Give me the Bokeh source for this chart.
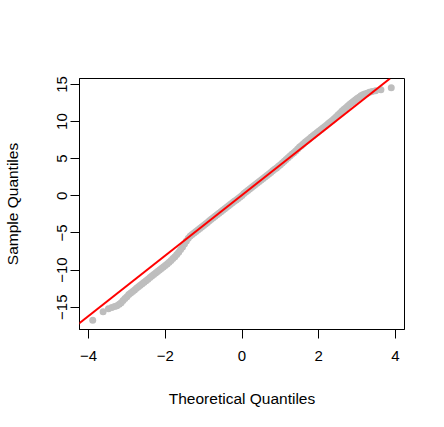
from bokeh.plotting import figure
from bokeh.models import Range1d, FixedTicker, Slope, ColumnDataSource
from bokeh.embed import file_html
from bokeh.resources import INLINE

# Theoretical quantiles (x) and sample quantiles (y)
theoretical = [
    -3.89, -3.62, -3.48, -3.39, -3.32, -3.26,
    -3.20, -3.15, -3.10, -3.05, -3.00, -2.95, -2.90, -2.85, -2.80, -2.75,
    -2.70, -2.65, -2.60, -2.55, -2.50, -2.45, -2.40, -2.35, -2.30, -2.25,
    -2.20, -2.15, -2.10, -2.05, -2.00, -1.95, -1.90, -1.85, -1.80, -1.75,
    -1.70, -1.65, -1.60, -1.55, -1.50, -1.45, -1.40, -1.35, -1.30, -1.25,
    -1.20, -1.15, -1.10, -1.05, -1.00, -0.95, -0.90, -0.85, -0.80, -0.75,
    -0.70, -0.65, -0.60, -0.55, -0.50, -0.45, -0.40, -0.35, -0.30, -0.25,
    -0.20, -0.15, -0.10, -0.05, 0.00, 0.05, 0.10, 0.15, 0.20, 0.25,
    0.30, 0.35, 0.40, 0.45, 0.50, 0.55, 0.60, 0.65, 0.70, 0.75,
    0.80, 0.85, 0.90, 0.95, 1.00, 1.05, 1.10, 1.15, 1.20, 1.25,
    1.30, 1.35, 1.40, 1.45, 1.50, 1.55, 1.60, 1.65, 1.70, 1.75,
    1.80, 1.85, 1.90, 1.95, 2.00, 2.05, 2.10, 2.15, 2.20, 2.25,
    2.30, 2.35, 2.40, 2.45, 2.50, 2.55, 2.60, 2.65, 2.70, 2.75,
    2.80, 2.85, 2.90, 2.95, 3.00, 3.05, 3.10, 3.15, 3.20,
    3.26, 3.32, 3.39, 3.48, 3.62, 3.89,
]
sample = [
    -16.76, -15.62, -15.20, -15.05, -14.90, -14.80,
    -14.60, -14.40, -14.10, -13.85, -13.60, -13.30, -13.10, -12.90, -12.70, -12.45,
    -12.25, -12.05, -11.85, -11.65, -11.45, -11.25, -11.00, -10.80, -10.60, -10.40,
    -10.20, -10.00, -9.80, -9.60, -9.40, -9.20, -8.95, -8.70, -8.45, -8.20,
    -7.90, -7.60, -7.25, -6.90, -6.50, -6.10, -5.72, -5.42, -5.20, -5.00,
    -4.80, -4.60, -4.40, -4.20, -4.00, -3.80, -3.60, -3.35, -3.15, -2.95,
    -2.75, -2.55, -2.35, -2.15, -1.95, -1.75, -1.55, -1.35, -1.15, -0.95,
    -0.75, -0.55, -0.35, -0.15, 0.05, 0.30, 0.51, 0.71, 0.91, 1.12,
    1.32, 1.52, 1.73, 1.93, 2.14, 2.34, 2.54, 2.75, 2.95, 3.15,
    3.36, 3.56, 3.76, 3.97, 4.17, 4.42, 4.66, 4.89, 5.12, 5.36,
    5.59, 5.81, 6.05, 6.30, 6.56, 6.78, 7.01, 7.23, 7.44, 7.65,
    7.88, 8.08, 8.28, 8.49, 8.69, 8.89, 9.10, 9.30, 9.50, 9.73,
    9.94, 10.15, 10.37, 10.62, 10.88, 11.13, 11.38, 11.61, 11.84, 12.06,
    12.30, 12.50, 12.70, 12.91, 13.11, 13.29, 13.47, 13.60, 13.72,
    13.80, 13.95, 14.05, 14.15, 14.30, 14.55,
]

# reference line (qqline)
line_intercept = 0.1
line_slope = 4.07

x_ticks = [-4, -2, 0, 2, 4]
y_ticks = [-15, -10, -5, 0, 5, 10, 15]

FONT = "Liberation Sans"

p = figure(
    width=436, height=419,
    frame_width=325, frame_height=251,
    min_border_left=78, min_border_top=78, min_border_right=33, min_border_bottom=90,
    x_range=Range1d(-4.235, 4.235), y_range=Range1d(-18.01, 15.80),
    output_backend="svg", toolbar_location=None,
    x_axis_label="Theoretical Quantiles", y_axis_label="Sample Quantiles",
)
p.background_fill_color = "white"
p.border_fill_color = "white"
p.outline_line_color = "black"
p.outline_line_width = 1
p.xgrid.visible = False
p.ygrid.visible = False

src = ColumnDataSource(dict(x=theoretical, y=sample))
p.scatter("x", "y", source=src, size=7, fill_color="#BEBEBE", line_color="#BEBEBE", line_width=0)

p.add_layout(Slope(gradient=line_slope, y_intercept=line_intercept, line_color="red", line_width=2))

p.xaxis.ticker = FixedTicker(ticks=x_ticks)
p.yaxis.ticker = FixedTicker(ticks=y_ticks)
for ax in (p.xaxis[0], p.yaxis[0]):
    ax.axis_line_color = "black"
    ax.major_tick_line_color = "black"
    ax.major_tick_out = 9
    ax.major_tick_in = 0
    ax.minor_tick_line_color = None
    ax.major_label_text_font = FONT
    ax.major_label_text_font_size = "15px"
    ax.major_label_text_color = "black"
    ax.axis_label_text_font = FONT
    ax.axis_label_text_font_size = "15.5px"
    ax.axis_label_text_font_style = "normal"
    ax.axis_label_text_color = "black"

p.xaxis.major_label_standoff = 12
p.xaxis.axis_label_standoff = 26
p.yaxis.major_label_orientation = "vertical"
p.yaxis.major_label_standoff = 3
p.yaxis.axis_label_standoff = 34

open("out.html", "w").write(file_html(p, INLINE))
